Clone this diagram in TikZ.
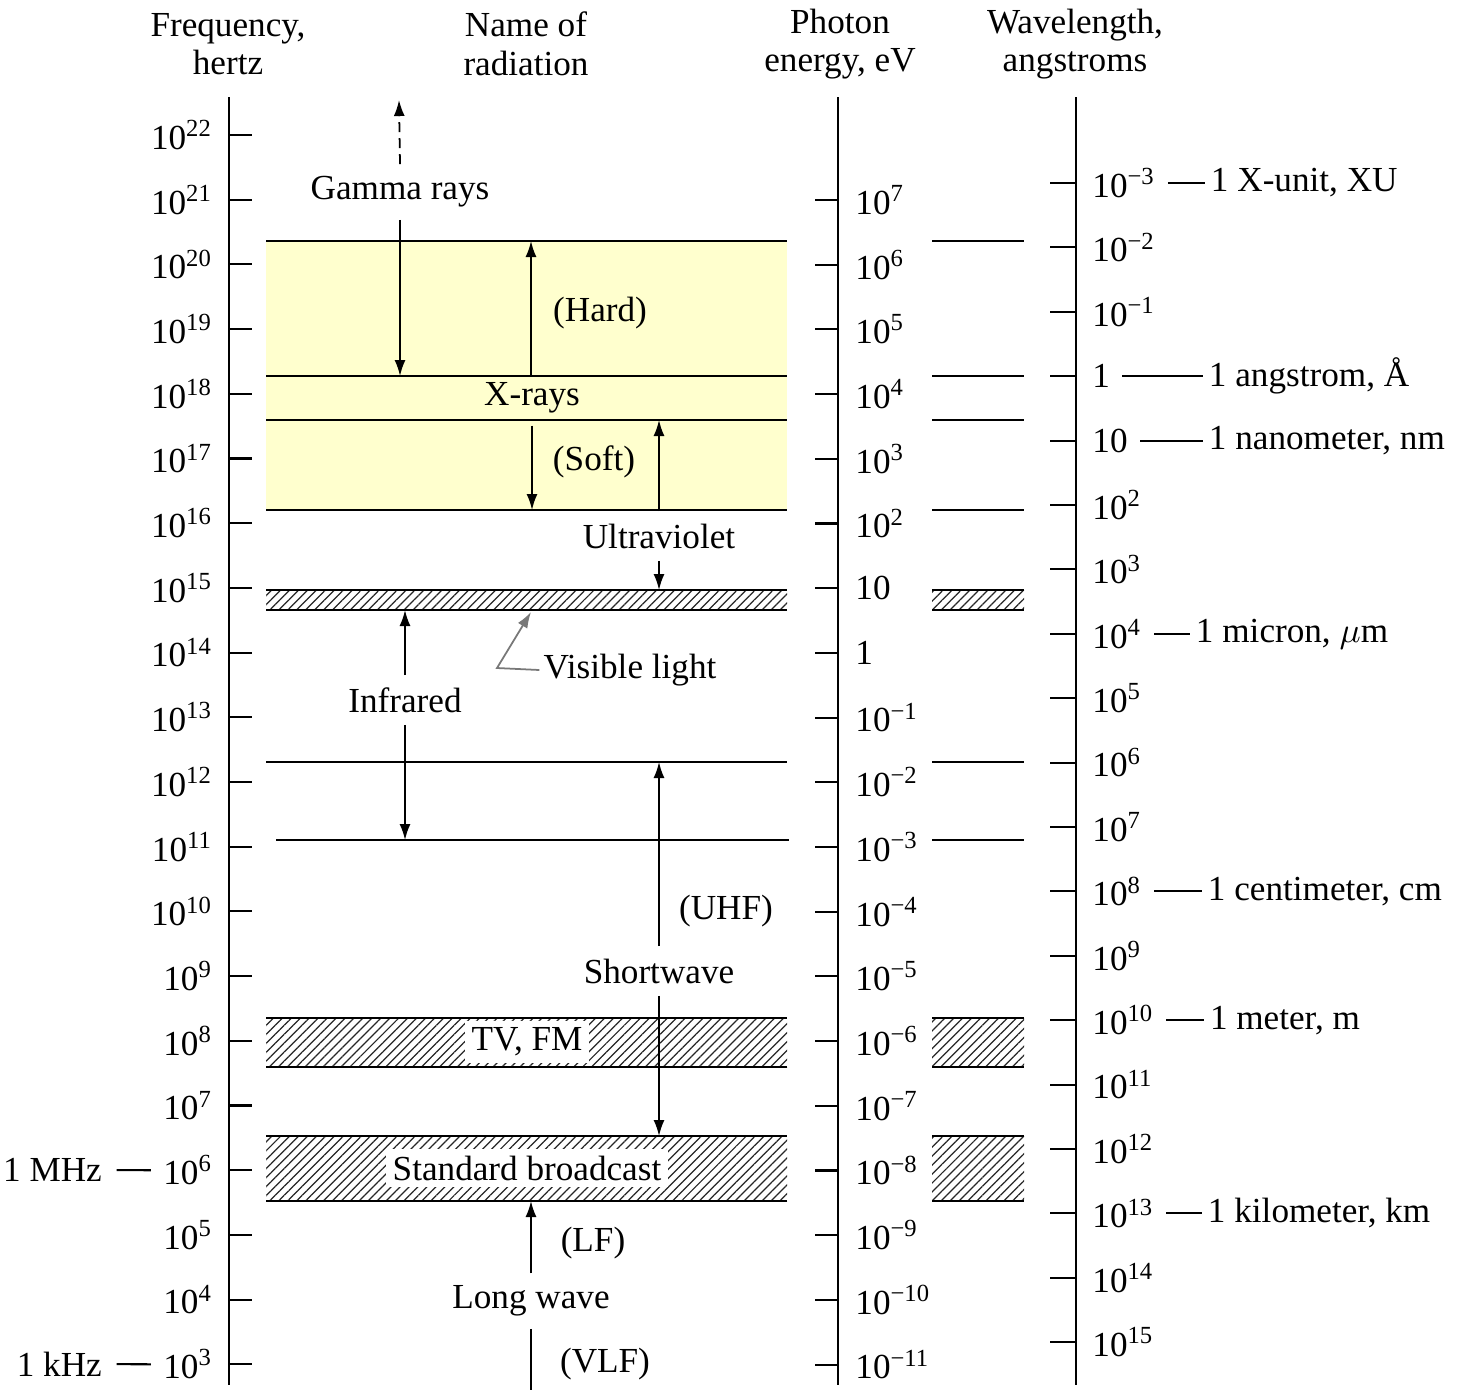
\documentclass[tikz,border=0pt]{standalone}
\usepackage{fontspec}
\setmainfont{Liberation Serif}
\usepackage{tikz}
\usetikzlibrary{arrows.meta,patterns.meta,calc}
\usepackage{xcolor}
\definecolor{xraycolor}{RGB}{255,255,206}
\definecolor{leadgray}{RGB}{120,120,120}
\newcommand{\tenpow}[1]{10\textsuperscript{\ifnum#1<0 −\number\numexpr-#1\relax\else#1\fi}}
\newcommand{\scalelab}[1]{\ifnum#1=0 1\else\ifnum#1=1 10\else\tenpow{#1}\fi\fi}

\begin{document}
\begin{tikzpicture}[x=0.01cm,y=-0.01cm,
    every node/.style={font=\fontsize{10}{11}\selectfont},
    >={Latex[length=1.6mm,width=1.1mm]},
    axisline/.style={line width=0.6pt},
    bandline/.style={line width=0.6pt},
    hatchband/.style={pattern={Lines[angle=45,distance=1.8pt,line width=0.35pt]},pattern color=black!85},
    arr/.style={->,line width=0.5pt},
    whitelab/.style={fill=white,inner sep=2pt}]
  \useasboundingbox (0,0) rectangle (1461,1390);

  % column headings
  \node[align=center] (hfreq) at (228,44) {Frequency,\\hertz};
  \node[align=center] (hname) at (526,44) {Name of\\radiation};
  \node[align=center] (hphot) at (840,44) {Photon\\energy, eV};
  \node[align=center] (hwave) at (1075,44) {Wavelength,\\angstroms};

  % bands
  \fill[xraycolor] (266,241) rectangle (787,510);
  \foreach \y in {241,376,420,510}
    \draw[bandline] (266,\y) -- (787,\y) (932,\y) -- (1024,\y);
  \draw[bandline] (266,762) -- (787,762) (932,762) -- (1024,762);
  \draw[bandline] (276,840) -- (789,840) (932,840) -- (1024,840);
  \foreach \ya/\yb in {590/610,1018/1067,1136/1201}{
    \fill[hatchband] (266,\ya) rectangle (787,\yb);
    \fill[hatchband] (932,\ya) rectangle (1024,\yb);
    \draw[bandline] (266,\ya) -- (787,\ya) (266,\yb) -- (787,\yb)
                    (932,\ya) -- (1024,\ya) (932,\yb) -- (1024,\yb);
  }
  \coordinate (hardtop) at (266,241);
  \coordinate (xmid) at (266,376);
  \coordinate (softtop) at (266,420);
  \coordinate (softbot) at (266,510);
  \coordinate (vistop) at (266,590);
  \coordinate (visbot) at (266,610);
  \coordinate (irtop) at (266,762);
  \coordinate (irbot) at (266,840);
  \coordinate (bctop) at (266,1136);
  \coordinate (bcbot) at (266,1201);

  % axes
  \draw[axisline] (229,97) -- (229,1385);
  \draw[axisline] (838,97) -- (838,1385);
  \draw[axisline] (1076,97) -- (1076,1385);
  \foreach \e [evaluate=\e as \y using {135+(22-\e)*64.7}] in {3,...,22}{
    \draw[axisline] (229,\y) -- (252,\y);
    \node[anchor=east] (f\e) at (225,\y) {\tenpow{\e}};
  }
  \foreach \e [evaluate=\e as \y using {200+(7-\e)*64.7}] in {-11,...,7}{
    \draw[axisline] (815,\y) -- (838,\y);
    \node[anchor=west] (e\e) at (843,\y) {\scalelab{\e}};
  }
  \foreach \e [evaluate=\e as \y using {183+(\e+3)*64.4}] in {-3,...,15}{
    \draw[axisline] (1050,\y) -- (1076,\y);
    \node[anchor=west] (w\e) at (1080,\y) {\scalelab{\e}};
  }

  % unit marks
  \node[anchor=east,inner sep=1pt] (mhz) at (106,1170) {1 MHz};
  \node[anchor=east,inner sep=1pt] (khz) at (106,1364) {1 kHz};
  \draw[bandline,shorten <=3pt] (mhz.east) -- (f6.west);
  \draw[bandline,shorten <=3pt] (khz.east) -- (f3.west);
  \foreach \e/\x/\txt in {-3/1205/{1 X-unit, XU},0/1203/{1 angstrom, Å},1/1203/{1 nanometer, nm},
      4/1190/{1 micron, $\mu$m},8/1202/{1 centimeter, cm},10/1204/{1 meter, m},13/1202/{1 kilometer, km}}{
    \node[anchor=west,inner sep=1.5pt] (u\e) at (\x,{183+(\e+3)*64.4}) {\txt};
    \draw[bandline] (w\e.east) -- (u\e.west);
  }

  % names of radiation
  \node (gamma) at (400,192) {Gamma rays};
  \node (hard) at (600,313) {(Hard)};
  \node (xrays) at (532,398) {X-rays};
  \node (soft) at (594,462) {(Soft)};
  \node (uv) at (659,536) {Ultraviolet};
  \node[inner sep=1pt] (visible) at (630,670) {Visible light};
  \node (infrared) at (405,700) {Infrared};
  \node (uhf) at (726,911) {(UHF)};
  \node (shortwave) at (659,971) {Shortwave};
  \node[whitelab] (tvfm) at (527,1042) {TV, FM};
  \node[whitelab] (broadcast) at (527,1168) {Standard broadcast};
  \node (lf) at (593,1243) {(LF)};
  \node (longwave) at (531,1301) {Long wave};
  \node (vlf) at (605,1364) {(VLF)};

  \coordinate (gammatip) at (399,100);
  \coordinate (hardlo) at (531,376);
  \coordinate (visbend) at (497,668);
  \coordinate (vistip) at (531,612);
  \coordinate (lwbot) at (531,1390);

  \draw[arr,dash pattern=on 1mm off 0.6mm] (gamma.north) -- (gammatip);
  \draw[arr] (gamma.south) -- (gamma.south |- xmid);
  \draw[arr] (hardlo) -- (hardlo |- hardtop);
  \draw[arr] (xrays.south) -- (xrays.south |- softbot);
  \draw[arr] (uv.north) -- (uv.north |- softtop);
  \draw[arr] (uv.south) -- (uv.south |- vistop);
  \draw[arr,leadgray] (visible.west) -- (visbend) -- (vistip);
  \draw[arr] (infrared.north) -- (infrared.north |- visbot);
  \draw[arr] (infrared.south) -- (infrared.south |- irbot);
  \draw[arr] (shortwave.north) -- (shortwave.north |- irtop);
  \draw[arr] (shortwave.south) -- (shortwave.south |- bctop);
  \draw[arr] (longwave.north) -- (longwave.north |- bcbot);
  \draw[line width=0.5pt] (longwave.south) -- (lwbot);
\end{tikzpicture}
\end{document}
